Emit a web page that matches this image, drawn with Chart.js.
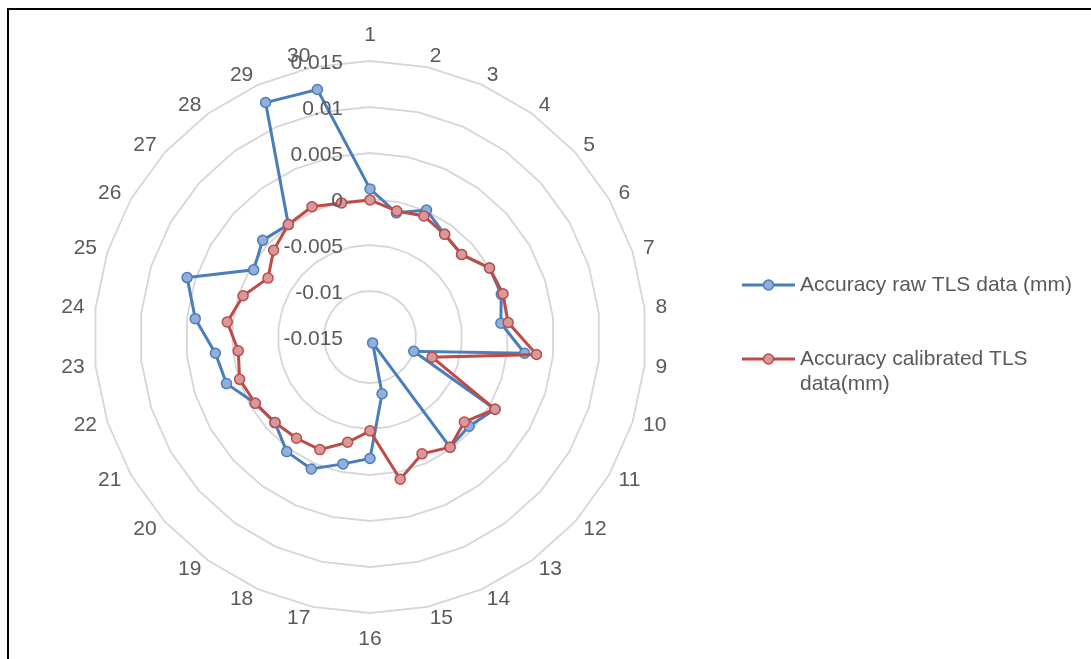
<!DOCTYPE html>
<html>
<head>
<meta charset="utf-8">
<script src="https://cdn.jsdelivr.net/npm/chart.js@4.4.1/dist/chart.umd.min.js"></script>
<style>
  html, body { margin: 0; padding: 0; background: #ffffff; }
  #wrap { position: relative; width: 1091px; height: 659px; overflow: hidden; }
  #frame { position: absolute; left: 7px; top: 8px; right: -10px; bottom: -10px;
           border-left: 2px solid #000; border-top: 2px solid #000; pointer-events: none; }
  canvas { position: absolute; left: 0; top: 0; }
</style>
</head>
<body>
<div id="wrap">
  <canvas id="chart" width="1091" height="659"></canvas>
  <div id="frame"></div>
</div>
<script>
// ---- data ----
const categories = ['1','2','3','4','5','6','7','8','9','10','11','12','13','14','15',
                    '16','17','18','19','20','21','22','23','24','25','26','27','28','29','30'];
const rawTLS = [0.0011, -0.0012, 0.0001, -0.0012, -0.0016, 0.0000, 0.0000, -0.0007, 0.0019, -0.0100,
                0.0007, -0.0005, -0.0002, -0.0143, -0.0087, -0.0018, -0.0009, 0.0007, 0.0004, -0.0011,
                -0.0006, 0.0014, 0.0019, 0.0041, 0.0059, -0.0004, 0.0007, 0.0001, 0.0129, 0.0125];
const calibratedTLS = [-0.0001, -0.0010, -0.0006, -0.0012, -0.0016, 0.0000, 0.0002, 0.0001, 0.0032, -0.0079,
                       0.0007, -0.0012, -0.0002, -0.0011, 0.0008, -0.0048, -0.0033, -0.0016, -0.0014, -0.0011,
                       -0.0006, -0.0001, -0.0006, 0.0006, -0.0005, -0.0022, -0.0009, 0.0001, 0.0005, -0.0001];
const tickValues = [-0.015, -0.01, -0.005, 0, 0.005, 0.01, 0.015];
const tickLabels = ['-0.015', '-0.01', '-0.005', '0', '0.005', '0.01', '0.015'];
const seriesNames = ['Accuracy raw TLS data (mm)', 'Accuracy calibrated TLS data(mm)'];
const legendLines = [['Accuracy raw TLS data (mm)'], ['Accuracy calibrated TLS', 'data(mm)']];

// ---- styling ----
const FONT = '21px "Liberation Sans", Arial, sans-serif';
const TEXT = '#595959';
const BLUE = '#4A7EBB', BLUE_FILL = '#93AEDA';
const RED = '#BE4B48', RED_FILL = '#D9999A';

const labelPlugin = {
  id: 'excelLabels',
  afterDatasetsDraw(chart) {
    const ctx = chart.ctx;
    const scale = chart.scales.r;
    const R = scale.drawingArea;
    ctx.save();
    ctx.font = FONT;
    ctx.fillStyle = TEXT;
    ctx.textBaseline = 'middle';
    // category labels around the web
    const n = chart.data.labels.length;
    for (let i = 0; i < n; i++) {
      const p = scale.getPointPosition(i, R + 11);
      const deg = Math.round(i * 360 / n) % 360;
      let x = p.x, y = p.y;
      if (deg === 0) { ctx.textAlign = 'center'; y -= 15; }
      else if (deg === 180) { ctx.textAlign = 'center'; y += 15; }
      else if (deg < 180) { ctx.textAlign = 'left'; }
      else { ctx.textAlign = 'right'; }
      ctx.fillText(chart.data.labels[i], x, y);
    }
    // value tick labels to the left of the vertical axis
    ctx.textAlign = 'right';
    tickValues.forEach((v, k) => {
      const d = scale.getDistanceFromCenterForValue(v);
      ctx.fillText(tickLabels[k], scale.xCenter - 27, scale.yCenter - d + 2);
    });
    ctx.restore();
  }
};

const legendPlugin = {
  id: 'sideLegend',
  afterDraw(chart) {
    const ctx = chart.ctx;
    const items = [
      { ds: chart.data.datasets[0], y: 285, lines: legendLines[0] },
      { ds: chart.data.datasets[1], y: 359, lines: legendLines[1] }
    ];
    ctx.save();
    items.forEach(it => {
      ctx.strokeStyle = it.ds.borderColor;
      ctx.lineWidth = 3;
      ctx.beginPath();
      ctx.moveTo(742, it.y);
      ctx.lineTo(795, it.y);
      ctx.stroke();
      ctx.beginPath();
      ctx.arc(768.5, it.y, 5, 0, Math.PI * 2);
      ctx.fillStyle = it.ds.pointBackgroundColor;
      ctx.fill();
      ctx.lineWidth = 1.5;
      ctx.stroke();
      ctx.font = FONT;
      ctx.fillStyle = TEXT;
      ctx.textAlign = 'left';
      ctx.textBaseline = 'middle';
      it.lines.forEach((t, k) => ctx.fillText(t, 800, it.y + k * 25));
    });
    ctx.restore();
  }
};

new Chart(document.getElementById('chart'), {
  type: 'radar',
  data: {
    labels: categories,
    datasets: [
      {
        label: seriesNames[0],
        data: rawTLS,
        borderColor: BLUE,
        backgroundColor: BLUE_FILL,
        pointBackgroundColor: BLUE_FILL,
        pointBorderColor: BLUE,
        borderWidth: 3,
        pointRadius: 5,
        pointBorderWidth: 1.5,
        fill: false,
        tension: 0,
        order: 2
      },
      {
        label: seriesNames[1],
        data: calibratedTLS,
        borderColor: RED,
        backgroundColor: RED_FILL,
        pointBackgroundColor: RED_FILL,
        pointBorderColor: RED,
        borderWidth: 3,
        pointRadius: 5,
        pointBorderWidth: 1.5,
        fill: false,
        tension: 0,
        order: 1
      }
    ]
  },
  options: {
    responsive: false,
    animation: false,
    devicePixelRatio: 1,
    layout: { padding: { left: 94, top: 61, right: 445, bottom: 46 } },
    plugins: { legend: { display: false }, tooltip: { enabled: false } },
    scales: {
      r: {
        min: -0.015,
        max: 0.015,
        ticks: { display: false, stepSize: 0.005 },
        grid: { color: '#D6D6D6', lineWidth: 1.8, circular: false },
        angleLines: { display: false },
        pointLabels: { display: false }
      }
    }
  },
  plugins: [labelPlugin, legendPlugin]
});
</script>
</body>
</html>
